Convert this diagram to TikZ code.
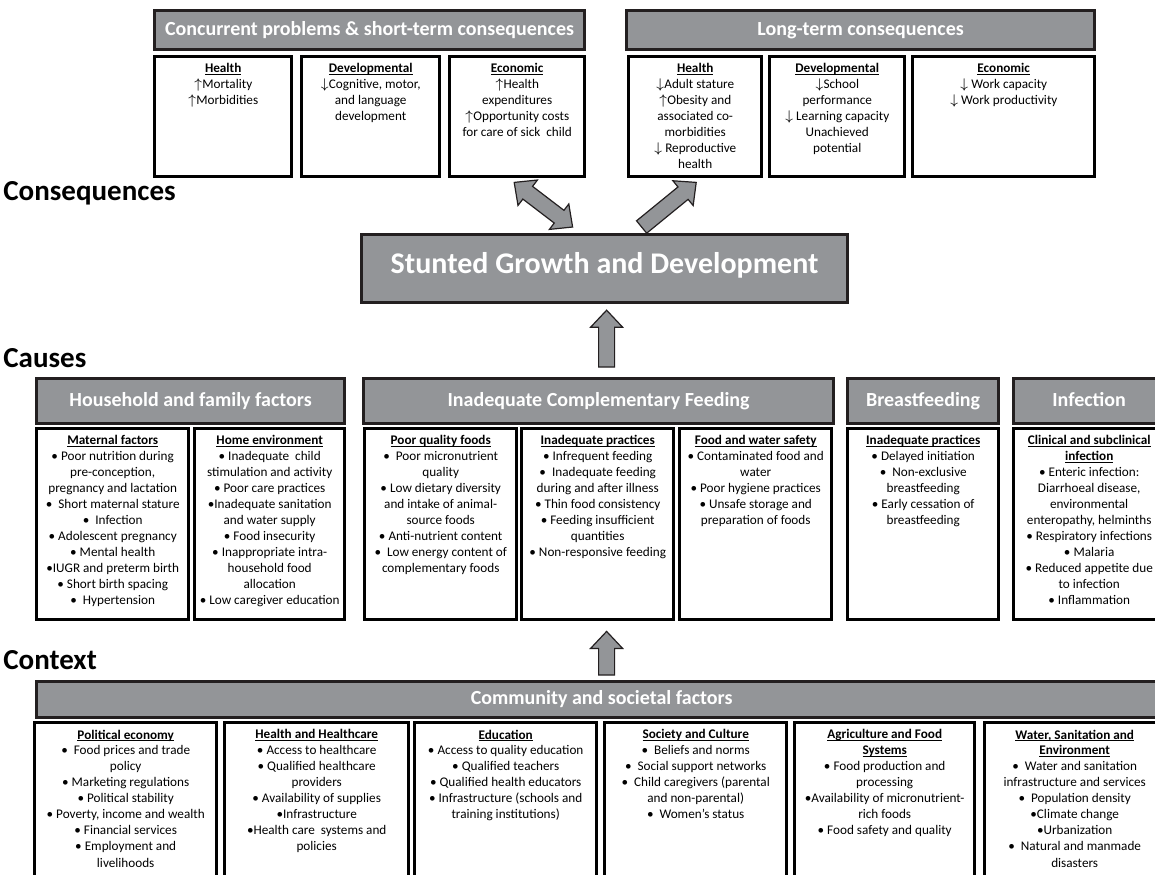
\documentclass[tikz,border=0pt]{standalone}
\usepackage{fontspec}
\setmainfont{Carlito}
\usetikzlibrary{calc,positioning}
\definecolor{boxgray}{RGB}{147,149,152}
\definecolor{edgeblack}{RGB}{35,31,32}
% bold heading, underlined close to the baseline
\newcommand{\uhead}[1]{\leavevmode\setbox0\hbox{\textbf{#1}}\rlap{\rule[-1pt]{\wd0}{0.45pt}}\box0}
% text of a box, width and height in px
\newcommand{\boxtxt}[3]{\parbox[t][\dimexpr#2pt/2-4pt\relax][t]{\dimexpr#1pt/2-4pt\relax}{\centering\vspace*{1.5pt}#3}}
% block arrows between named coordinates
\newcommand{\fatarrow}[2]{%
  \coordinate (hb) at ($(#2)!8.5pt!(#1)$);
  \draw[blockarrow] ($(#1)!4pt!90:(#2)$) -- ($(hb)!4pt!-90:(#1)$) -- ($(hb)!8pt!-90:(#1)$) -- (#2)
    -- ($(hb)!8pt!90:(#1)$) -- ($(hb)!4pt!90:(#1)$) -- ($(#1)!4pt!-90:(#2)$) -- cycle;}
\newcommand{\dblarrow}[2]{%
  \coordinate (ha) at ($(#1)!8.5pt!(#2)$);
  \coordinate (hb) at ($(#2)!8.5pt!(#1)$);
  \draw[blockarrow] (#1) -- ($(ha)!8pt!90:(#2)$) -- ($(ha)!4pt!90:(#2)$) -- ($(hb)!4pt!-90:(#1)$)
    -- ($(hb)!8pt!-90:(#1)$) -- (#2) -- ($(hb)!8pt!90:(#1)$) -- ($(hb)!4pt!90:(#1)$)
    -- ($(ha)!4pt!-90:(#2)$) -- ($(ha)!8pt!-90:(#2)$) -- cycle;}

\begin{document}
\begin{tikzpicture}[x=0.5pt, y=-0.5pt,
    hdr/.style={draw=edgeblack, line width=1.6pt, fill=boxgray, text=white, anchor=north west,
      text height=1.55ex, text depth=0.45ex, font=\bfseries\fontsize{10}{12}\selectfont},
    sub/.style={draw=black, line width=1.7pt, fill=white, inner sep=2pt, anchor=north west,
      font=\fontsize{6.6}{8}\selectfont},
    sect/.style={anchor=west, inner sep=0pt, font=\bfseries\fontsize{14.5}{17}\selectfont},
    blockarrow/.style={draw=edgeblack, line width=0.6pt, fill=boxgray, line join=miter}]
    \useasboundingbox (0,0) rectangle (1155,874);
    \clip (0,0) rectangle (1155,874);

    % Consequences
    \node[hdr, minimum width=215pt, minimum height=19.5pt] (short) at (153,9) {Concurrent problems \& short-term consequences};
    \node[hdr, minimum width=234pt, minimum height=19.5pt] (long) at (625,9) {Long-term consequences};

    \node[sub] (st-h) at (153,55) {\boxtxt{137}{120}{\uhead{Health}\\ $\uparrow$Mortality\\ $\uparrow$Morbidities}};
    \node[sub] (st-d) at (300,55) {\boxtxt{138}{120}{\uhead{Developmental}\\ $\downarrow$Cognitive, motor,\\ and language\\ development}};
    \node[sub] (st-e) at (448,55) {\boxtxt{135}{120}{\uhead{Economic}\\ $\uparrow$Health\\ expenditures\\ $\uparrow$Opportunity costs\\ for care of sick\ \ child}};

    \node[sub] (lt-h) at (627,55) {\boxtxt{133}{120}{\uhead{Health}\\ $\downarrow$Adult stature\\ $\uparrow$Obesity and\\ associated co-\\ morbidities\\ $\downarrow$ Reproductive\\ health}};
    \node[sub] (lt-d) at (768,55) {\boxtxt{135}{120}{\uhead{Developmental}\\ $\downarrow$School\\ performance\\ $\downarrow$ Learning capacity\\ Unachieved\\ potential}};
    \node[sub] (lt-e) at (911,55) {\boxtxt{182}{120}{\uhead{Economic}\\ $\downarrow$ Work capacity\\ $\downarrow$ Work productivity}};

    \node[sect] (l-cons) at (3,193) {Consequences};

    % Centre box
    \node[hdr, minimum width=243pt, minimum height=34pt, font=\bfseries\fontsize{15}{18}\selectfont] (stunt) at (360,233) {Stunted Growth and Development};

    % Causes
    \node[sect] (l-caus) at (3,358) {Causes};

    \node[hdr, minimum width=154pt, minimum height=22.5pt] (house) at (35,377) {Household and family factors};
    \node[hdr, minimum width=235pt, minimum height=22.5pt] (icf) at (362,377) {Inadequate Complementary Feeding};
    \node[hdr, minimum width=75.5pt, minimum height=22.5pt] (bf) at (846,377) {Breastfeeding};
    \node[hdr, minimum width=75.5pt, minimum height=22.5pt] (inf) at (1012,377) {Infection};

    \node[sub] (mat) at (35,427) {\boxtxt{152}{191}{\uhead{Maternal factors}\\ • Poor nutrition during\\ pre-conception,\\ pregnancy and lactation\\ •\ \ Short maternal stature\\ •\ \ Infection\\ • Adolescent pregnancy\\ • Mental health\\ •IUGR and preterm birth\\ • Short birth spacing\\ •\ \ Hypertension}};
    \node[sub] (home) at (193,427) {\boxtxt{150}{191}{\uhead{Home environment}\\ • Inadequate\ \ child\\ stimulation and activity\\ • Poor care practices\\ •Inadequate sanitation\\ and water supply\\ • Food insecurity\\ • Inappropriate intra-\\ household food\\ allocation\\ • Low caregiver education}};
    \node[sub] (pqf) at (363,427) {\boxtxt{152}{191}{\uhead{Poor quality foods}\\ •\ \ Poor micronutrient\\ quality\\ • Low dietary diversity\\ and intake of animal-\\ source foods\\ • Anti-nutrient content\\ •\ \ Low energy content of\\ complementary foods}};
    \node[sub] (ipr) at (520,427) {\boxtxt{152}{191}{\uhead{Inadequate practices}\\ • Infrequent feeding\\ •\ \ Inadequate feeding\\ during and after illness\\ • Thin food consistency\\ • Feeding insufficient\\ quantities\\ • Non-responsive feeding}};
    \node[sub] (fws) at (678,427) {\boxtxt{152}{191}{\uhead{Food and water safety}\\ • Contaminated food and\\ water\\ • Poor hygiene practices\\ • Unsafe storage and\\ preparation of foods}};
    \node[sub] (bfp) at (846,427) {\boxtxt{151}{191}{\uhead{Inadequate practices}\\ • Delayed initiation\\ •\ \ Non-exclusive\\ breastfeeding\\ • Early cessation of\\ breastfeeding}};
    \node[sub] (inc) at (1012,427) {\boxtxt{151}{191}{\uhead{Clinical and subclinical}\\ \uhead{infection}\\ • Enteric infection:\\ Diarrhoeal disease,\\ environmental\\ enteropathy, helminths\\ • Respiratory infections\\ • Malaria\\ • Reduced appetite due\\ to infection\\ • Inflammation}};

    % Context
    \node[sect] (l-cont) at (3,660) {Context};

    \node[hdr, minimum width=565pt, minimum height=18pt] (comm) at (35,680) {Community and societal factors};

    \node[sub] (pol) at (33,721) {\boxtxt{182}{170}{\uhead{Political economy}\\ •\ \ Food prices and trade\\ policy\\ • Marketing regulations\\ • Political stability\\ • Poverty, income and wealth\\ • Financial services\\ • Employment and\\ livelihoods}};
    \node[sub] (hhc) at (223,721) {\boxtxt{184}{170}{\uhead{Health and Healthcare}\\ • Access to healthcare\\ • Qualified healthcare\\ providers\\ • Availability of supplies\\ •Infrastructure\\ •Health care\ \ systems and\\ policies}};
    \node[sub] (edu) at (413,721) {\boxtxt{182}{170}{\uhead{Education}\\ • Access to quality education\\ • Qualified teachers\\ • Qualified health educators\\ • Infrastructure (schools and\\ training institutions)}};
    \node[sub] (soc) at (603,721) {\boxtxt{182}{170}{\uhead{Society and Culture}\\ •\ \ Beliefs and norms\\ •\ \ Social support networks\\ •\ \ Child caregivers (parental\\ and non-parental)\\ •\ \ Women’s status}};
    \node[sub] (agr) at (793,721) {\boxtxt{180}{170}{\uhead{Agriculture and Food}\\ \uhead{Systems}\\ • Food production and\\ processing\\ •Availability of micronutrient-\\ rich foods\\ • Food safety and quality}};
    \node[sub] (wat) at (983,721) {\boxtxt{180}{170}{\uhead{Water, Sanitation and}\\ \uhead{Environment}\\ •\ \ Water and sanitation\\ infrastructure and services\\ •\ \ Population density\\ •Climate change\\ •Urbanization\\ •\ \ Natural and manmade\\ disasters}};

    % Block arrows
    \coordinate (d1) at ($(st-e.south)+(-3,4)$);
    \coordinate (d2) at ($(stunt.north)+(-32,-6)$);
    \dblarrow{d1}{d2}
    \coordinate (r1) at ($(stunt.north)+(37,-6)$);
    \coordinate (r2) at ($(lt-h.south)+(1,4)$);
    \fatarrow{r1}{r2}
    \coordinate (u1) at ($(icf.north -| stunt.south)+(2,-10)$);
    \coordinate (u2) at ($(stunt.south)+(2,6)$);
    \fatarrow{u1}{u2}
    \coordinate (v1) at ($(comm.north -| stunt.south)+(2,-5)$);
    \coordinate (v2) at ($(ipr.south -| stunt.south)+(2,10)$);
    \fatarrow{v1}{v2}
\end{tikzpicture}
\end{document}
